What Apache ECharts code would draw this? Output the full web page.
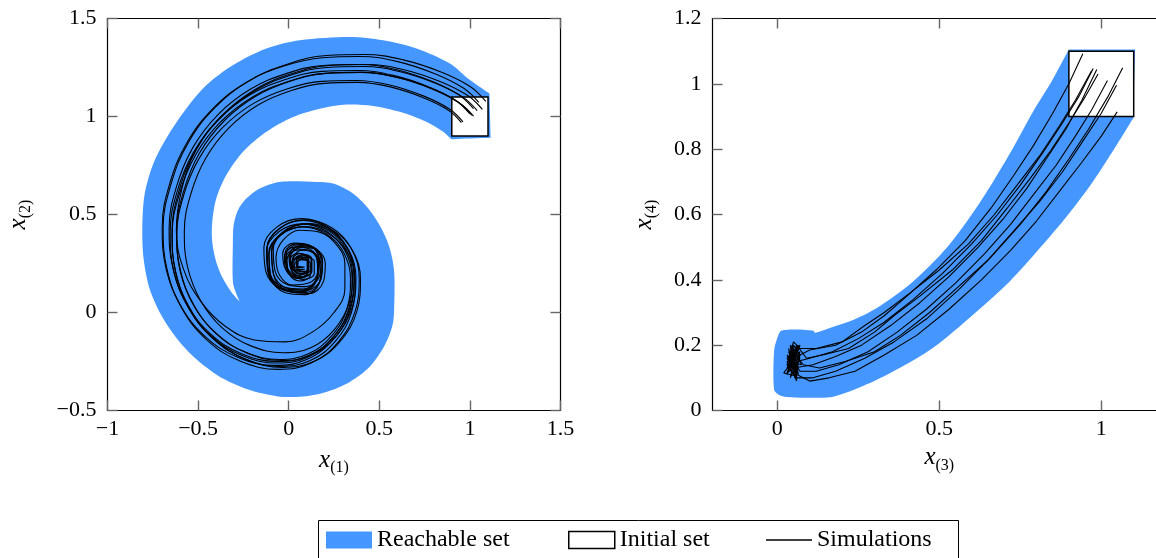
<!DOCTYPE html>
<html><head><meta charset="utf-8">
<script src="https://cdn.jsdelivr.net/npm/echarts@6/dist/echarts.min.js"></script>
<style>html,body{margin:0;padding:0;background:#fff}#c{width:1156px;height:558px}</style>
</head><body><div id="c"></div><script>
// ---------- data ----------
const xTicksLeft = [-1, -0.5, 0, 0.5, 1, 1.5];
const yTicksLeft = [-0.5, 0, 0.5, 1, 1.5];
const xTicksRight = [0, 0.5, 1];
const yTicksRight = [0, 0.2, 0.4, 0.6, 0.8, 1, 1.2];
const legendNames = ['Reachable set', 'Initial set', 'Simulations'];

const reachLeft = [[0.899,0.884],[0.906,0.884],[1.108,0.891],[1.114,0.891],[1.114,0.9],[1.108,1.11],[1.107,1.117],[1.1,1.122],[1.055,1.151],[0.989,1.194],[0.890,1.270],[0.705,1.347],[0.521,1.389],[0.337,1.406],[0.061,1.389],[-0.123,1.347],[-0.308,1.262],[-0.455,1.160],[-0.565,1.041],[-0.676,0.888],[-0.750,0.752],[-0.796,0.598],[-0.808,0.428],[-0.801,0.275],[-0.768,0.122],[-0.703,-0.014],[-0.602,-0.150],[-0.492,-0.252],[-0.363,-0.337],[-0.215,-0.396],[-0.068,-0.427],[0.061,-0.430],[0.208,-0.405],[0.337,-0.354],[0.447,-0.277],[0.530,-0.167],[0.573,-0.065],[0.582,0.020],[0.582,0.207],[0.558,0.326],[0.512,0.428],[0.447,0.522],[0.355,0.607],[0.245,0.658],[0.153,0.666],[-0.050,0.666],[-0.160,0.633],[-0.234,0.581],[-0.280,0.522],[-0.304,0.445],[-0.308,0.360],[-0.308,0.156],[-0.293,0.105],[-0.276,0.066],[-0.271,0.058],[-0.279,0.064],[-0.317,0.105],[-0.363,0.173],[-0.400,0.258],[-0.422,0.360],[-0.422,0.462],[-0.400,0.581],[-0.344,0.701],[-0.252,0.820],[-0.123,0.922],[0.024,0.998],[0.190,1.044],[0.319,1.061],[0.466,1.054],[0.613,1.024],[0.760,0.973],[0.853,0.922],[0.893,0.888]];
const reachRight = [[-0.010,0.181],[0.000,0.222],[0.014,0.245],[0.110,0.245],[0.117,0.238],[0.160,0.252],[0.224,0.273],[0.307,0.314],[0.420,0.396],[0.523,0.498],[0.600,0.600],[0.667,0.702],[0.728,0.804],[0.790,0.916],[0.847,1.008],[0.896,1.098],[0.900,1.105],[0.908,1.105],[1.097,1.105],[1.104,1.105],[1.104,1.097],[1.099,0.905],[1.099,0.896],[1.093,0.886],[1.042,0.804],[0.975,0.702],[0.898,0.600],[0.811,0.498],[0.718,0.396],[0.605,0.294],[0.481,0.192],[0.379,0.131],[0.276,0.080],[0.173,0.042],[0.101,0.039],[0.029,0.041],[0.003,0.049],[-0.010,0.064]];
const initLeft = [[0.9,0.9],[1.1,0.9],[1.1,1.1],[0.9,1.1]];
const initRight = [[0.9,0.9],[1.1,0.9],[1.1,1.1],[0.9,1.1]];

const simL1 = [[1.088,1.077],[1.003,1.152],[0.844,1.226],[0.632,1.289],[0.420,1.316],[0.208,1.311],[-0.004,1.268],[-0.216,1.183],[-0.406,1.046],[-0.555,0.865],[-0.650,0.653],[-0.693,0.431],[-0.671,0.219],[-0.587,0.017],[-0.449,-0.142],[-0.269,-0.248],[-0.057,-0.290],[0.124,-0.258],[0.272,-0.152],[0.367,0.007],[0.389,0.176],[0.346,0.325],[0.240,0.431],[0.092,0.473],[-0.046,0.431],[-0.120,0.325],[-0.110,0.198],[-0.025,0.113],[0.092,0.102],[0.177,0.166],[0.187,0.261],[0.134,0.335],[0.049,0.346],[-0.014,0.293],[-0.004,0.219],[0.060,0.176],[0.124,0.208],[0.124,0.272],[0.071,0.293],[0.028,0.261],[0.039,0.219],[0.081,0.219]];
const simL2 = [[1.069,1.036],[0.988,1.107],[0.835,1.179],[0.631,1.240],[0.427,1.265],[0.223,1.260],[0.019,1.219],[-0.185,1.138],[-0.369,1.005],[-0.512,0.832],[-0.603,0.628],[-0.644,0.414],[-0.624,0.210],[-0.542,0.016],[-0.410,-0.137],[-0.236,-0.239],[-0.032,-0.280],[0.141,-0.249],[0.284,-0.147],[0.376,0.006],[0.396,0.169],[0.355,0.312],[0.253,0.414],[0.111,0.454],[-0.022,0.414],[-0.093,0.312],[-0.083,0.189],[-0.002,0.108],[0.111,0.097],[0.192,0.159],[0.202,0.250],[0.151,0.322],[0.070,0.332],[0.009,0.281],[0.019,0.210],[0.080,0.169],[0.141,0.199],[0.141,0.261],[0.090,0.281],[0.049,0.250],[0.060,0.210],[0.100,0.210]];
const simL3 = [[1.02,1.04],[0.94,1.11],[0.79,1.18],[0.59,1.24],[0.39,1.265],[0.19,1.26],[-0.01,1.22],[-0.21,1.14],[-0.39,1.01],[-0.53,0.84],[-0.62,0.64],[-0.66,0.43],[-0.64,0.23],[-0.56,0.04],[-0.43,-0.11],[-0.26,-0.21],[-0.06,-0.25],[0.11,-0.22],[0.25,-0.12],[0.34,0.03],[0.36,0.19],[0.32,0.33],[0.22,0.43],[0.08,0.47],[-0.05,0.43],[-0.12,0.33],[-0.11,0.21],[-0.03,0.13],[0.08,0.12],[0.16,0.18],[0.17,0.27],[0.12,0.34],[0.04,0.35],[-0.02,0.30],[-0.01,0.23],[0.05,0.19],[0.11,0.22],[0.11,0.28],[0.06,0.30],[0.02,0.27],[0.03,0.23],[0.07,0.23]];
const simL4 = [[1.011,1.006],[0.933,1.074],[0.788,1.142],[0.594,1.200],[0.400,1.225],[0.206,1.220],[0.012,1.181],[-0.182,1.103],[-0.357,0.977],[-0.493,0.812],[-0.580,0.618],[-0.619,0.415],[-0.599,0.221],[-0.522,0.036],[-0.396,-0.109],[-0.231,-0.206],[-0.037,-0.245],[0.128,-0.216],[0.264,-0.119],[0.351,0.027],[0.371,0.182],[0.332,0.318],[0.235,0.415],[0.099,0.453],[-0.027,0.415],[-0.095,0.318],[-0.085,0.201],[-0.008,0.124],[0.099,0.114],[0.177,0.172],[0.186,0.259],[0.138,0.327],[0.060,0.337],[0.002,0.289],[0.012,0.221],[0.070,0.182],[0.128,0.211],[0.128,0.269],[0.080,0.289],[0.041,0.259],[0.051,0.221],[0.089,0.221]];
const simL5 = [[0.962,0.973],[0.887,1.038],[0.746,1.104],[0.558,1.161],[0.370,1.184],[0.182,1.179],[-0.006,1.142],[-0.194,1.067],[-0.364,0.944],[-0.495,0.785],[-0.580,0.597],[-0.617,0.399],[-0.599,0.211],[-0.523,0.033],[-0.401,-0.108],[-0.241,-0.202],[-0.053,-0.240],[0.106,-0.212],[0.238,-0.118],[0.323,0.023],[0.341,0.174],[0.304,0.305],[0.210,0.399],[0.078,0.437],[-0.044,0.399],[-0.110,0.305],[-0.100,0.192],[-0.025,0.117],[0.078,0.108],[0.153,0.164],[0.163,0.249],[0.116,0.315],[0.041,0.324],[-0.016,0.277],[-0.006,0.211],[0.050,0.174],[0.106,0.202],[0.106,0.258],[0.059,0.277],[0.022,0.249],[0.031,0.211],[0.069,0.211]];
const simL6 = [[1.049,1.072],[0.966,1.144],[0.810,1.217],[0.602,1.280],[0.394,1.306],[0.186,1.300],[-0.022,1.259],[-0.230,1.176],[-0.418,1.040],[-0.563,0.864],[-0.657,0.656],[-0.698,0.437],[-0.678,0.229],[-0.594,0.032],[-0.459,-0.124],[-0.282,-0.228],[-0.074,-0.270],[0.102,-0.239],[0.248,-0.135],[0.342,0.021],[0.362,0.188],[0.321,0.333],[0.217,0.437],[0.071,0.479],[-0.064,0.437],[-0.137,0.333],[-0.126,0.208],[-0.043,0.125],[0.071,0.115],[0.154,0.177],[0.165,0.271],[0.113,0.344],[0.030,0.354],[-0.033,0.302],[-0.022,0.229],[0.040,0.188],[0.102,0.219],[0.102,0.281],[0.050,0.302],[0.009,0.271],[0.019,0.229],[0.061,0.229]];
const simL7 = [[0.953,0.969],[0.880,1.033],[0.743,1.096],[0.561,1.151],[0.379,1.174],[0.197,1.169],[0.015,1.133],[-0.167,1.060],[-0.330,0.942],[-0.458,0.787],[-0.540,0.605],[-0.576,0.414],[-0.558,0.232],[-0.485,0.059],[-0.367,-0.078],[-0.212,-0.169],[-0.030,-0.205],[0.125,-0.178],[0.252,-0.087],[0.334,0.050],[0.352,0.195],[0.316,0.323],[0.225,0.414],[0.097,0.450],[-0.021,0.414],[-0.085,0.323],[-0.076,0.214],[-0.003,0.141],[0.097,0.132],[0.170,0.186],[0.179,0.268],[0.134,0.332],[0.061,0.341],[0.006,0.296],[0.015,0.232],[0.070,0.195],[0.125,0.223],[0.125,0.277],[0.079,0.296],[0.043,0.268],[0.052,0.232],[0.088,0.232]];
const simL8 = [[1.020,1.002],[0.941,1.071],[0.793,1.141],[0.595,1.200],[0.397,1.225],[0.199,1.220],[0.001,1.180],[-0.197,1.101],[-0.376,0.972],[-0.514,0.804],[-0.603,0.606],[-0.643,0.398],[-0.623,0.200],[-0.544,0.012],[-0.415,-0.136],[-0.247,-0.235],[-0.049,-0.275],[0.119,-0.245],[0.258,-0.146],[0.347,0.002],[0.367,0.161],[0.327,0.299],[0.228,0.398],[0.090,0.438],[-0.039,0.398],[-0.108,0.299],[-0.098,0.180],[-0.019,0.101],[0.090,0.091],[0.169,0.151],[0.179,0.240],[0.129,0.309],[0.050,0.319],[-0.009,0.270],[0.001,0.200],[0.060,0.161],[0.119,0.190],[0.119,0.250],[0.070,0.270],[0.030,0.240],[0.040,0.200],[0.080,0.200]];
const simL9 = [[1.000,1.013],[0.922,1.082],[0.774,1.151],[0.577,1.210],[0.380,1.235],[0.183,1.230],[-0.014,1.190],[-0.211,1.112],[-0.388,0.984],[-0.526,0.816],[-0.615,0.619],[-0.654,0.412],[-0.635,0.215],[-0.556,0.028],[-0.428,-0.120],[-0.260,-0.218],[-0.063,-0.258],[0.104,-0.228],[0.242,-0.129],[0.331,0.018],[0.350,0.176],[0.311,0.314],[0.212,0.412],[0.075,0.452],[-0.054,0.412],[-0.122,0.314],[-0.113,0.196],[-0.034,0.117],[0.075,0.107],[0.153,0.166],[0.163,0.255],[0.114,0.324],[0.035,0.334],[-0.024,0.284],[-0.014,0.215],[0.045,0.176],[0.104,0.205],[0.104,0.265],[0.055,0.284],[0.015,0.255],[0.025,0.215],[0.065,0.215]];
const simL10 = [[1.04,1.03],[0.96,1.10],[0.81,1.17],[0.61,1.23],[0.41,1.255],[0.21,1.25],[0.01,1.21],[-0.19,1.13],[-0.37,1.0],[-0.51,0.83],[-0.59,0.63],[-0.62,0.42],[-0.58,0.22],[-0.48,0.05],[-0.35,-0.07],[-0.19,-0.14],[-0.02,-0.15],[0.13,-0.1],[0.25,0.0],[0.31,0.12],[0.31,0.25],[0.26,0.35],[0.17,0.41],[0.06,0.42],[-0.03,0.37],[-0.07,0.28],[-0.05,0.19],[0.02,0.14],[0.11,0.15],[0.16,0.21],[0.15,0.29],[0.09,0.32],[0.03,0.29],[0.02,0.23],[0.07,0.2],[0.11,0.23],[0.1,0.27],[0.06,0.27],[0.05,0.24],[0.08,0.23]];

const simR1 = [[0.943,1.092],[0.90,1.0],[0.85,0.91],[0.79,0.81],[0.73,0.72],[0.66,0.62],[0.58,0.52],[0.49,0.43],[0.40,0.35],[0.33,0.29],[0.26,0.24],[0.18,0.2],[0.1,0.185],[0.07,0.17],[0.05,0.2],[0.04,0.13],[0.065,0.19],[0.035,0.15],[0.06,0.12],[0.05,0.17]];
const simR2 = [[0.975,1.047],[0.93,0.96],[0.88,0.88],[0.82,0.79],[0.75,0.69],[0.68,0.6],[0.60,0.51],[0.51,0.42],[0.42,0.34],[0.33,0.27],[0.25,0.22],[0.17,0.18],[0.1,0.16],[0.06,0.15],[0.04,0.18],[0.06,0.11],[0.03,0.16],[0.07,0.2],[0.045,0.13],[0.055,0.16]];
const simR3 = [[0.986,1.044],[0.94,0.95],[0.89,0.86],[0.83,0.77],[0.77,0.68],[0.70,0.59],[0.62,0.5],[0.53,0.41],[0.44,0.33],[0.35,0.26],[0.26,0.2],[0.18,0.165],[0.11,0.14],[0.05,0.13],[0.03,0.115],[0.06,0.19],[0.04,0.1],[0.07,0.16],[0.035,0.18],[0.05,0.14]];
const simR4 = [[0.97,1.04],[0.92,0.95],[0.87,0.87],[0.81,0.78],[0.74,0.69],[0.67,0.6],[0.59,0.51],[0.5,0.43],[0.41,0.36],[0.33,0.3],[0.27,0.26],[0.2,0.21],[0.12,0.19],[0.07,0.19],[0.05,0.21],[0.03,0.14],[0.06,0.1],[0.045,0.2],[0.065,0.13],[0.04,0.16]];
const simR5 = [[1.019,1.01],[0.97,0.92],[0.92,0.84],[0.86,0.75],[0.79,0.66],[0.72,0.57],[0.64,0.48],[0.55,0.39],[0.46,0.31],[0.37,0.24],[0.28,0.18],[0.19,0.14],[0.12,0.12],[0.07,0.12],[0.04,0.17],[0.06,0.105],[0.02,0.115],[0.07,0.18],[0.05,0.12],[0.045,0.15]];
const simR6 = [[1.066,1.049],[1.02,0.96],[0.96,0.86],[0.90,0.77],[0.83,0.67],[0.75,0.57],[0.66,0.47],[0.56,0.37],[0.46,0.28],[0.36,0.21],[0.27,0.16],[0.18,0.12],[0.11,0.1],[0.06,0.1],[0.035,0.19],[0.055,0.1],[0.07,0.17],[0.03,0.13],[0.06,0.2],[0.05,0.14]];
const simR7 = [[1.047,0.996],[1.0,0.91],[0.94,0.82],[0.88,0.73],[0.81,0.64],[0.73,0.55],[0.65,0.46],[0.56,0.38],[0.47,0.3],[0.38,0.23],[0.3,0.18],[0.21,0.15],[0.13,0.13],[0.08,0.14],[0.05,0.18],[0.03,0.11],[0.065,0.2],[0.04,0.12],[0.055,0.17],[0.045,0.14]];
const simR8 = [[1.049,0.914],[1.0,0.84],[0.94,0.76],[0.87,0.67],[0.80,0.58],[0.72,0.49],[0.63,0.4],[0.53,0.31],[0.43,0.23],[0.33,0.17],[0.24,0.12],[0.16,0.1],[0.1,0.09],[0.06,0.11],[0.045,0.19],[0.06,0.09],[0.03,0.15],[0.075,0.14],[0.04,0.2],[0.05,0.13]];
const simR9 = [[0.99,1.03],[0.95,0.96],[0.9,0.88],[0.84,0.79],[0.78,0.71],[0.71,0.62],[0.63,0.52],[0.54,0.43],[0.44,0.35],[0.36,0.29],[0.3,0.24],[0.22,0.19],[0.14,0.17],[0.09,0.16],[0.06,0.2],[0.035,0.12],[0.05,0.19],[0.065,0.11],[0.03,0.17],[0.05,0.15]];

const simsLeft = [simL1, simL2, simL3, simL4, simL5, simL6, simL7, simL8, simL9, simL10];
const simsRight = [simR1, simR2, simR3, simR4, simR5, simR6, simR7, simR8, simR9];

// ---------- styling ----------
const BLUE = '#4597ff';
const FONT = "'Liberation Serif', 'DejaVu Serif', serif";
const fmt = v => String(Math.round(v * 100) / 100).replace('-', '\u2212');

function nameRich() {
  return {
    x: { fontFamily: FONT, fontStyle: 'italic', fontSize: 25, lineHeight: 24, verticalAlign: 'top', color: '#000' },
    s: { fontFamily: FONT, fontSize: 16, lineHeight: 28, verticalAlign: 'bottom', color: '#000' }
  };
}
function tickStyle(extra) {
  return Object.assign({ show: true, inside: true, length: 10, lineStyle: { color: '#666', width: 1.4 } }, extra || {});
}
function axisLineStyle() {
  return { show: true, onZero: false, lineStyle: { color: '#000', width: 1.2 } };
}
function labelStyle(extra) {
  return Object.assign({ show: true, color: '#000', fontFamily: FONT, fontSize: 22, formatter: fmt }, extra || {});
}

function mainX(grid, min, max, extra, name, gap) {
  return Object.assign({
    gridIndex: grid, type: 'value', min, max, position: 'bottom',
    axisLine: axisLineStyle(), splitLine: { show: false },
    axisTick: tickStyle(), axisLabel: labelStyle({ margin: 8 }),
    name, nameLocation: 'middle', nameGap: gap, nameTextStyle: { rich: nameRich() }
  }, extra);
}
function mirrorX(grid, min, max, extra) {
  return Object.assign({
    gridIndex: grid, type: 'value', min, max, position: 'top',
    axisLine: axisLineStyle(), splitLine: { show: false },
    axisTick: tickStyle(), axisLabel: { show: false }
  }, extra);
}
function mainY(grid, min, max, interval, name, gap) {
  return {
    gridIndex: grid, type: 'value', min, max, interval, position: 'left',
    axisLine: axisLineStyle(), splitLine: { show: false },
    axisTick: tickStyle(), axisLabel: labelStyle({ margin: 11 }),
    name, nameLocation: 'middle', nameGap: gap, nameRotate: 90, nameTextStyle: { rich: nameRich() }
  };
}
function mirrorY(grid, min, max, interval) {
  return {
    gridIndex: grid, type: 'value', min, max, interval, position: 'right',
    axisLine: axisLineStyle(), splitLine: { show: false },
    axisTick: tickStyle(), axisLabel: { show: false }
  };
}

function polySeries(name, pts, xi, yi, style, z, smooth) {
  return {
    type: 'custom', name, coordinateSystem: 'cartesian2d', xAxisIndex: xi, yAxisIndex: yi,
    data: [[pts[0][0], pts[0][1]]], z, silent: true, itemStyle: style, clip: false,
    renderItem: (params, api) => ({
      type: 'polygon',
      shape: { points: pts.map(p => api.coord(p)), smooth: smooth || 0 },
      style: { fill: style.color, stroke: style.borderColor || null, lineWidth: style.borderWidth || 0 }
    })
  };
}
function simSeries(pts, xi, yi, smooth) {
  return {
    type: 'line', name: legendNames[2], xAxisIndex: xi, yAxisIndex: yi, data: pts,
    symbol: 'none', smooth, z: 5, silent: true,
    lineStyle: { color: '#000', width: 1.1 }, itemStyle: { color: '#000' }
  };
}

const reachStyle = { color: BLUE };
const initStyle = { color: '#fff', borderColor: '#000', borderWidth: 1.5 };

const series = [
  polySeries(legendNames[0], reachLeft, 0, 0, reachStyle, 2, 0.3),
  polySeries(legendNames[0], reachRight, 2, 2, reachStyle, 2, 0.3),
  polySeries(legendNames[1], initLeft, 0, 0, initStyle, 3, 0),
  polySeries(legendNames[1], initRight, 2, 2, initStyle, 3, 0)
];
simsLeft.forEach(s => series.push(simSeries(s, 0, 0, 0.4)));
simsRight.forEach(s => series.push(simSeries(s, 2, 2, false)));

const legendText = { fontFamily: FONT, fontSize: 24, color: '#000' };
const legendBase = { top: 528, padding: 0, itemWidth: 46, selectedMode: false, textStyle: legendText, orient: 'horizontal' };

const option = {
  animation: false,
  backgroundColor: '#fff',
  grid: [
    { left: 107.5, top: 18.5, width: 453, height: 392, outerBoundsMode: 'none', containLabel: false },
    { left: 712.5, top: 18.5, width: 453.6, height: 392, outerBoundsMode: 'none', containLabel: false }
  ],
  xAxis: [
    mainX(0, xTicksLeft[0], xTicksLeft[xTicksLeft.length - 1], { interval: 0.5 }, '{x|x}{s|(1)}', 37),
    mirrorX(0, xTicksLeft[0], xTicksLeft[xTicksLeft.length - 1], { interval: 0.5 }),
    mainX(1, -0.2, 1.2, { axisTick: tickStyle({ customValues: xTicksRight }), axisLabel: labelStyle({ margin: 8, customValues: xTicksRight }) }, '{x|x}{s|(3)}', 33),
    mirrorX(1, -0.2, 1.2, { axisTick: tickStyle({ customValues: xTicksRight }) })
  ],
  yAxis: [
    mainY(0, yTicksLeft[0], yTicksLeft[yTicksLeft.length - 1], 0.5, '{x|x}{s|(2)}', 74),
    mirrorY(0, yTicksLeft[0], yTicksLeft[yTicksLeft.length - 1], 0.5),
    mainY(1, yTicksRight[0], yTicksRight[yTicksRight.length - 1], 0.2, '{x|x}{s|(4)}', 53),
    mirrorY(1, yTicksRight[0], yTicksRight[yTicksRight.length - 1], 0.2)
  ],
  legend: [
    Object.assign({}, legendBase, { left: 326, itemHeight: 17, data: [{ name: legendNames[0], icon: 'rect', itemStyle: { color: BLUE, borderWidth: 0 } }] }),
    Object.assign({}, legendBase, { left: 568, itemHeight: 17, data: [{ name: legendNames[1], icon: 'rect', itemStyle: { color: '#fff', borderColor: '#000', borderWidth: 1.5 } }] }),
    Object.assign({}, legendBase, { left: 766, itemHeight: 1.3, data: [{ name: legendNames[2], icon: 'rect', itemStyle: { color: '#000', borderWidth: 0 } }] })
  ],
  graphic: [
    { type: 'rect', shape: { x: 318.5, y: 520.5, width: 640, height: 50 }, style: { fill: 'none', stroke: '#000', lineWidth: 1 }, silent: true }
  ],
  series
};

const chart = echarts.init(document.getElementById('c'), null, { renderer: 'canvas' });
chart.setOption(option);
</script></body></html>
